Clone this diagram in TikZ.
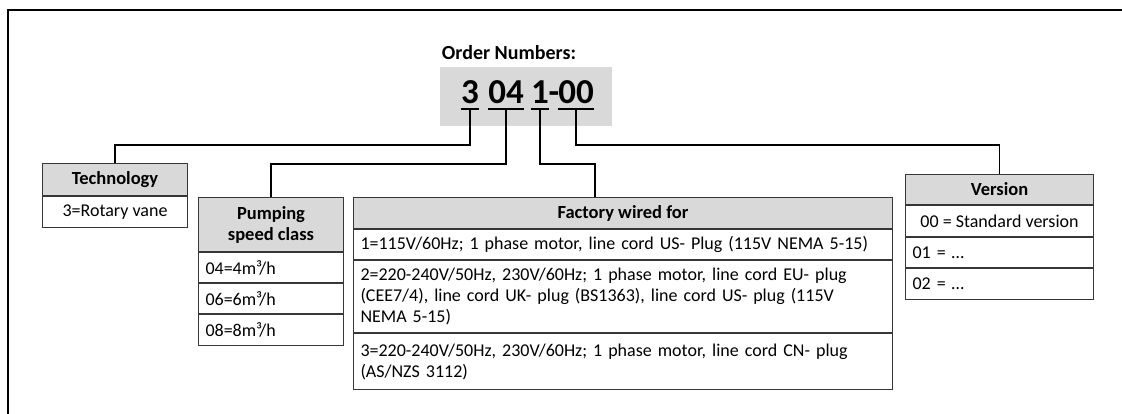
\documentclass[tikz,border=0pt]{standalone}
\usepackage{fontspec}
\setmainfont{Carlito}
\usetikzlibrary{positioning}
\definecolor{cellgray}{RGB}{217,217,217}
\definecolor{edgegray}{RGB}{55,55,55}

\tikzset{
  hdr/.style={draw=edgegray, fill=cellgray, line width=1pt, inner sep=0pt,
    font=\fontsize{18.5}{21}\selectfont\bfseries, align=center},
  cell/.style={draw=edgegray, fill=white, line width=1pt, inner sep=0pt,
    font=\fontsize{18}{21}\selectfont},
  leftcell/.style={cell, inner xsep=7pt, text width=#1, align=left},
  digit/.style={font=\fontsize{35}{35}\selectfont\bfseries, inner sep=0pt, anchor=base},
  wire/.style={line width=1.8pt},
  uline/.style={line width=2.4pt},
}

\begin{document}
\begin{tikzpicture}[x=1pt,y=-1pt]
  \useasboundingbox (0,0) rectangle (1122,414);
  % outer frame (cut off at right and bottom)
  \draw[line width=2.5pt] (8,414) -- (8,10) -- (1122,10);

  % order number
  \node[font=\fontsize{20}{20}\selectfont\bfseries, anchor=base] (title) at (509,60) {Order Numbers:};
  \node[fill=cellgray, minimum width=172pt, minimum height=59pt, inner sep=0pt, anchor=north west] (code) at (440,67) {};
  \node[digit] (d3) at (470,104) {3};
  \node[digit] (d04) at (506,104) {04};
  \node[digit] (d1) at (540,104) {1};
  \node[digit] (dash) at (554,104) {-};
  \node[digit] (d00) at (576,104) {00};
  \foreach \d in {d3,d04,d1,d00}
    \draw[uline] ([yshift=-5pt]\d.base west) -- ([yshift=-5pt]\d.base east);

  % technology
  \node[hdr, minimum width=145pt, minimum height=32pt, anchor=north west] (tech) at (42,163) {Technology};
  \node[cell, minimum width=145pt, minimum height=31pt, below=0pt of tech] (techA) {3=Rotary vane};

  % pumping speed
  \node[hdr, minimum width=145pt, minimum height=54pt, anchor=north west] (pump) at (198,197) {Pumping\\speed class};
  \node[leftcell=131pt, minimum height=30pt, below=0pt of pump] (pumpA) {04=4m³/h};
  \node[leftcell=131pt, minimum height=30pt, below=0pt of pumpA] (pumpB) {06=6m³/h};
  \node[leftcell=131pt, minimum height=31pt, below=0pt of pumpB] (pumpC) {08=8m³/h};

  % wiring
  \node[hdr, minimum width=539pt, minimum height=31pt, anchor=north west] (fact) at (353,197) {Factory wired for};
  \node[leftcell=525pt, minimum height=30pt, below=0pt of fact] (factA)
    {1=115V/60Hz; 1 phase motor, line cord US- Plug (115V NEMA 5-15)};
  \node[leftcell=525pt, minimum height=72pt, below=0pt of factA] (factB)
    {2=220-240V/50Hz, 230V/60Hz; 1 phase motor, line cord EU- plug\\(CEE7/4), line cord UK- plug (BS1363), line cord US- plug (115V\\NEMA 5-15)};
  \node[leftcell=525pt, minimum height=56pt, below=0pt of factB] (factC)
    {3=220-240V/50Hz, 230V/60Hz; 1 phase motor, line cord CN- plug\\(AS/NZS 3112)};

  % version
  \node[hdr, minimum width=188pt, minimum height=30pt, anchor=north west] (ver) at (905,174) {Version};
  \node[cell, minimum width=188pt, minimum height=31pt, below=0pt of ver] (verA) {00 = Standard version};
  \node[leftcell=174pt, minimum height=30pt, below=0pt of verA] (verB) {01 = \dots};
  \node[leftcell=174pt, minimum height=31pt, below=0pt of verB] (verC) {02 = \dots};

  % connectors
  \draw[wire] ([yshift=-5pt]d3.base) -- ++(0,36) -| (tech.north);
  \draw[wire] ([yshift=-5pt]d04.base) -- ++(0,55) -| (pump.north);
  \draw[wire] ([yshift=-5pt]d1.base) -- ++(0,55) -| ([xshift=242pt]fact.north west);
  \draw[wire] ([yshift=-5pt]d00.base) -- ++(0,36) -| (ver.north);
\end{tikzpicture}
\end{document}
